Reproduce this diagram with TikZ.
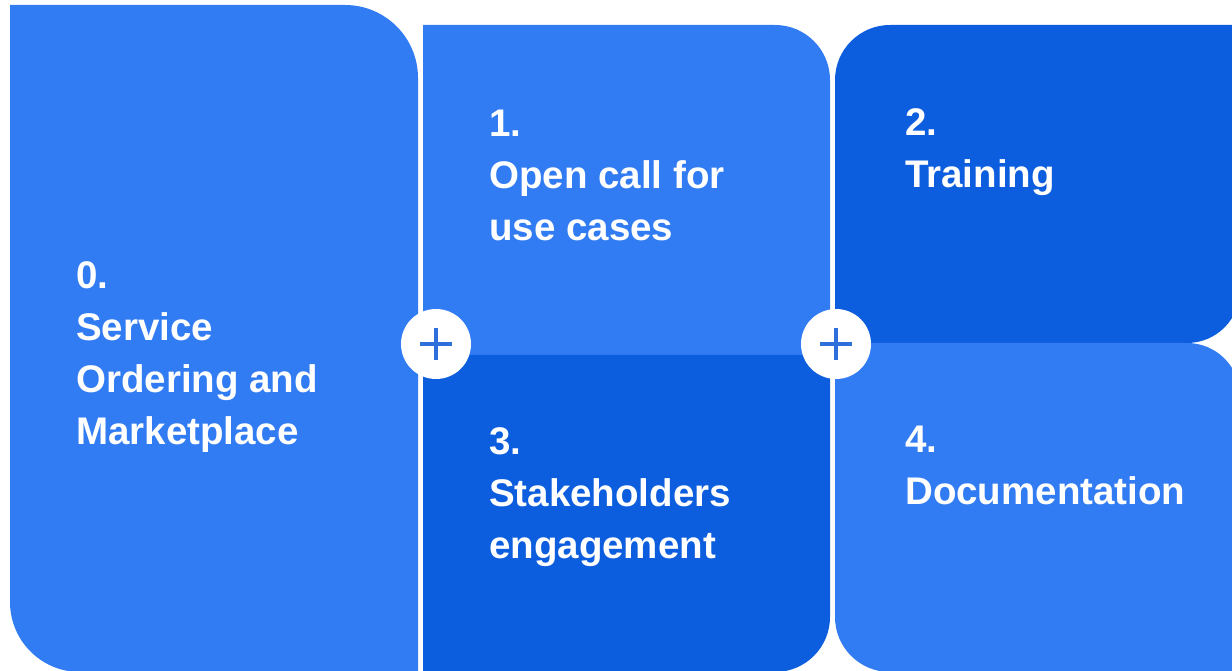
\documentclass[tikz,border=0pt]{standalone}
\usepackage{fontspec}
\setmainfont{Liberation Sans}
\definecolor{lightb}{HTML}{317CF3}
\definecolor{darkb}{HTML}{0D5EDE}
\definecolor{plusc}{HTML}{2E6FDB}
\tikzset{
  label/.style={anchor=north west, inner sep=0pt, align=left, text=white,
    font=\fontsize{38.5}{52}\selectfont\bfseries},
  plusdot/.style={circle, fill=white, minimum size=70pt, inner sep=0pt},
  plusbar/.style={draw=plusc, line width=3.5pt}
}
\begin{document}
\begin{tikzpicture}[x=1pt,y=1pt]
\useasboundingbox (0,0) rectangle (1232,671);
\fill[white] (0,0) rectangle (1232,671);
% box 0
\fill[lightb] (10,666) -- (345,666) arc[start angle=90,end angle=0,radius=73pt]
  -- (418,-1) -- (80,-1) arc[start angle=270,end angle=180,radius=70pt] -- cycle;
% box 1
\fill[lightb] (423,646) -- (775,646) arc[start angle=90,end angle=0,radius=55pt]
  -- (830,316) -- (443,316) arc[start angle=270,end angle=180,radius=20pt] -- cycle;
% box 3
\fill[darkb] (443,316) -- (830,316) -- (830,54) arc[start angle=0,end angle=-90,radius=55pt]
  -- (423,-1) -- (423,296) arc[start angle=180,end angle=90,radius=20pt] -- cycle;
% box 2
\fill[darkb] (835,328) -- (835,591) arc[start angle=180,end angle=90,radius=55pt]
  -- (1240,646) -- (1240,381) arc[start angle=0,end angle=-90,radius=53pt] -- cycle;
% box 4
\fill[lightb] (835,328) -- (1187,328) arc[start angle=90,end angle=0,radius=53pt]
  -- (1240,-1) -- (890,-1) arc[start angle=270,end angle=180,radius=55pt] -- cycle;
% labels
\node[label] (t0) at (76,410) {0.\\Service\\Ordering and\\Marketplace};
\node[label] (t1) at (489,561) {1.\\Open call for\\use cases};
\node[label] (t2) at (905,563) {2.\\Training};
\node[label] (t3) at (489,244) {3.\\Stakeholders\\engagement};
\node[label] (t4) at (905,245) {4.\\Documentation};
% plus circles
\node[plusdot] (p1) at (436,327) {};
\node[plusdot] (p2) at (836,327) {};
\foreach \p in {p1,p2}{
  \draw[plusbar] ([xshift=-16pt]\p.center) -- ([xshift=16pt]\p.center);
  \draw[plusbar] ([yshift=-16pt]\p.center) -- ([yshift=16pt]\p.center);
}
\end{tikzpicture}
\end{document}
